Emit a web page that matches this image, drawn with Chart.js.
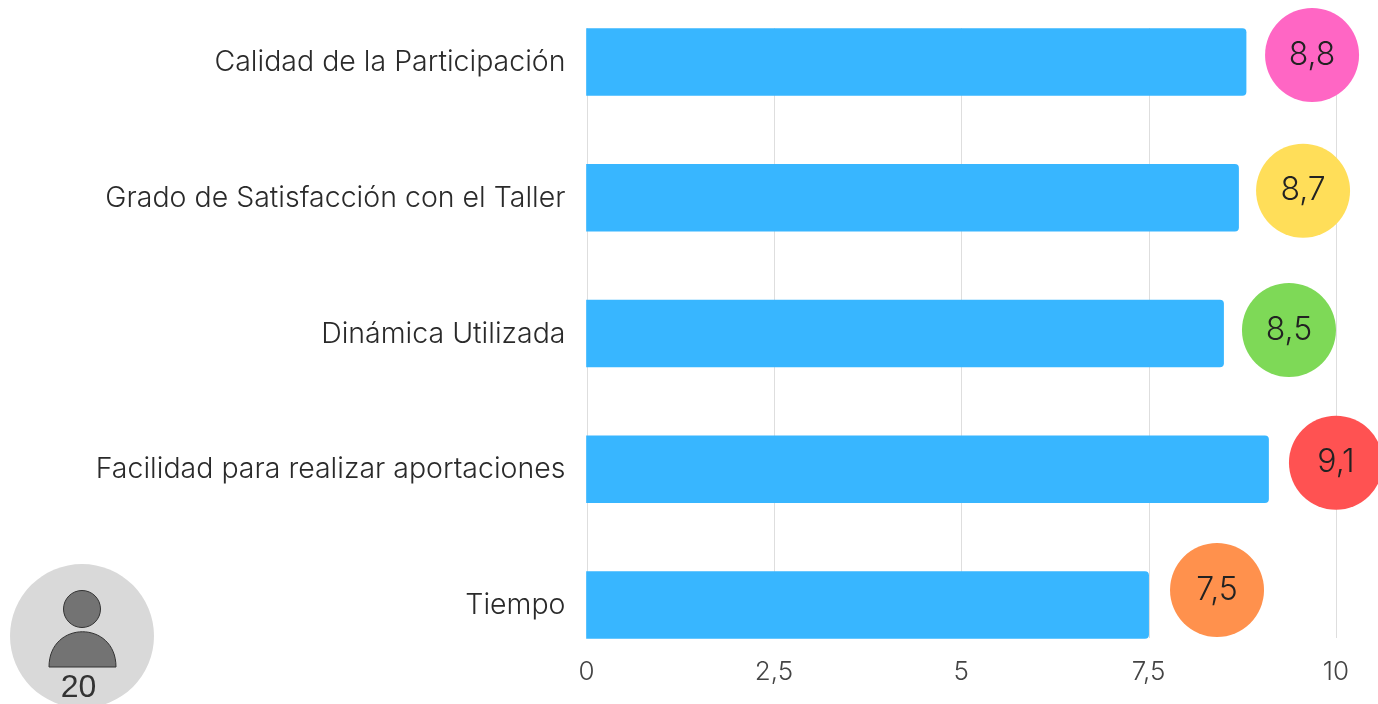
<!DOCTYPE html>
<html><head><meta charset="utf-8">
<style>html,body{margin:0;padding:0;background:#fff;overflow:hidden}canvas{display:block}</style>
<script src="https://cdn.jsdelivr.net/npm/chart.js@4"></script></head>
<body><div style="position:relative;width:1378px;height:704px"><canvas id="c" width="1378" height="704"></canvas></div>
<script>
const categories=["Calidad de la Participación","Grado de Satisfacción con el Taller","Dinámica Utilizada","Facilidad para realizar aportaciones","Tiempo"];
const values=[8.8,8.7,8.5,9.1,7.5];
const badgeColors=["#FF66C4","#FFDE59","#7ED957","#FF5252","#FF914D"];
const tickValues=[0,2.5,5,7.5,10];
const respondents="20";
const FONT='Inter, sans-serif';
const badgeDx=[66,64.5,65.4,67.4,68.4];
const badgeDy=[-7,-7,-3.5,-6.5,-15];
const fmt=v=>String(v).replace('.',',');
const grid={id:'gridBehind',beforeDatasetsDraw(ch){
 const {ctx,scales:{x}}=ch;
 ctx.save();ctx.strokeStyle='#dedede';ctx.lineWidth=1;
 tickValues.forEach(v=>{const p=Math.round(x.getPixelForValue(v))+.5;
  ctx.beginPath();ctx.moveTo(p,28);ctx.lineTo(p,638);ctx.stroke();});
 ctx.restore();
}};
const decor={id:'decor',afterDatasetsDraw(ch){
 const {ctx,scales:{x,y}}=ch;
 values.forEach((v,i)=>{
  const cx=x.getPixelForValue(v)+badgeDx[i];
  const cy=y.getPixelForValue(i)+badgeDy[i];
  ctx.beginPath();ctx.arc(cx,cy,47,0,Math.PI*2);ctx.fillStyle=badgeColors[i];ctx.fill();
  ctx.fillStyle='#222';ctx.font='300 32px '+FONT;ctx.textAlign='center';ctx.textBaseline='middle';
  ctx.fillText(fmt(v),cx,cy);
 });
 ctx.beginPath();ctx.arc(82,636,72,0,Math.PI*2);ctx.fillStyle='#d9d9d9';ctx.fill();
 ctx.fillStyle='#737373';ctx.strokeStyle='#333';ctx.lineWidth=1;
 ctx.beginPath();ctx.arc(82,609,18.5,0,Math.PI*2);ctx.fill();ctx.stroke();
 ctx.beginPath();ctx.moveTo(49,667);ctx.bezierCurveTo(49,620,116,620,116,667);ctx.closePath();ctx.fill();ctx.stroke();
 ctx.fillStyle='#333';ctx.font='32px "Liberation Sans", sans-serif';ctx.textAlign='center';ctx.textBaseline='middle';
 ctx.fillText(respondents,78.5,688);
}};
new Chart(document.getElementById('c'),{type:'bar',
 data:{labels:categories,datasets:[{data:values,backgroundColor:'#38B6FF',borderRadius:4,borderSkipped:'left',barThickness:67,clip:false}]},
 plugins:[grid,decor],
 options:{indexAxis:'y',responsive:false,animation:false,
  layout:{padding:{top:62,right:42,bottom:0,left:0}},
  plugins:{legend:{display:false},tooltip:{enabled:false}},
  scales:{
   x:{min:0,max:10,afterBuildTicks(a){a.ticks=tickValues.map(v=>({value:v}))},
      afterFit(a){a.height=99;a.paddingRight=0;a.paddingLeft=0},
      grid:{display:false},border:{display:false},
      ticks:{callback:v=>fmt(v),color:'#444',font:{family:FONT,size:26,weight:300},padding:44,maxRotation:0,autoSkip:false}},
   y:{offset:false,afterFit(a){a.width=586.5},grid:{display:false},border:{display:false},
      ticks:{color:'#2a2a2a',font:{family:FONT,size:28.5,weight:300},padding:13,labelOffset:0.5,autoSkip:false}}
  }}});
</script></body></html>
